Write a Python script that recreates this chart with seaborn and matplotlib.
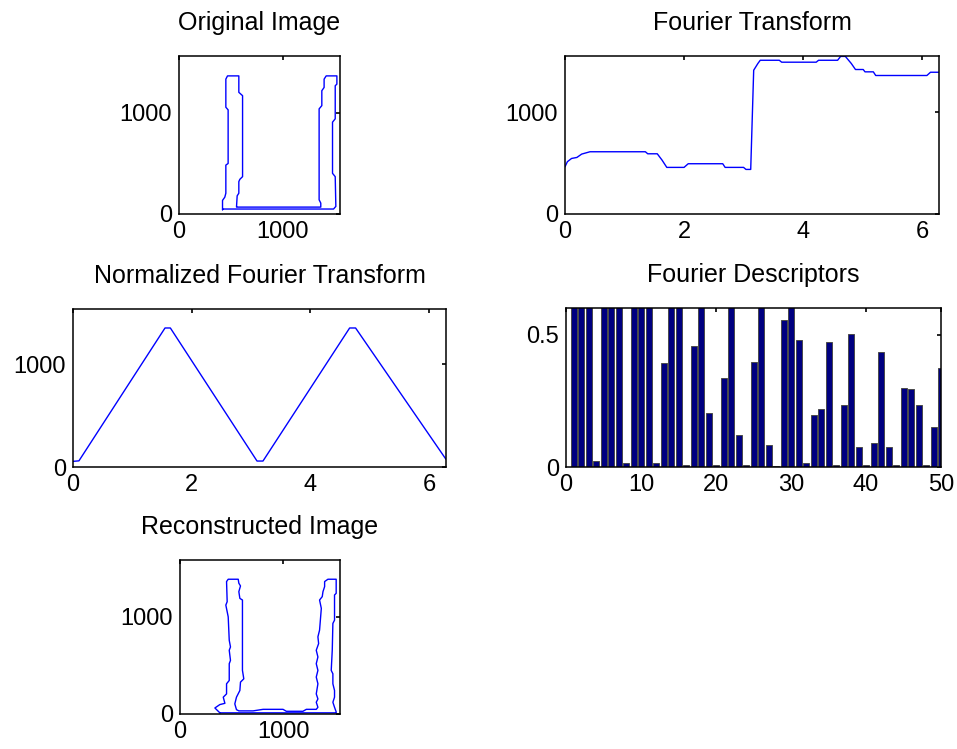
import numpy as np
import pandas as pd
import matplotlib
matplotlib.use("Agg")
import matplotlib.pyplot as plt
import seaborn as sns

# ---------------- data ----------------
# Original contour (x, y) in image pixel units
orig_x = [419, 419, 441, 451, 451, 473, 473, 451, 451, 467, 576, 576, 612, 612, 586, 576,
          576, 560, 554, 554, 1365, 1365, 1349, 1349, 1375, 1375, 1397, 1397, 1417, 1520,
          1520, 1504, 1504, 1478, 1478, 1504, 1510, 1488, 425, 419]
orig_y = [42, 134, 166, 205, 482, 498, 1026, 1052, 1329, 1361, 1361, 1199, 1166, 368, 342, 319,
          205, 179, 75, 68, 68, 107, 140, 1036, 1068, 1215, 1247, 1329, 1361, 1361,
          1280, 1264, 938, 905, 401, 368, 75, 49, 49, 42]

# Fourier transform magnitude vs angle
ft_theta = [0.0, 0.04, 0.11, 0.2, 0.28, 0.42, 1.35, 1.39, 1.55, 1.63, 1.71, 2.0, 2.07, 2.65,
            2.69, 3.0, 3.04, 3.12, 3.17, 3.24, 3.28, 3.6, 3.64, 4.22, 4.26, 4.58, 4.63, 4.71,
            4.81, 4.88, 5.01, 5.04, 5.18, 5.22, 6.08, 6.14, 6.283]
ft_mag = [465, 515, 547, 557, 590, 613, 613, 593, 593, 531, 459, 459, 495, 495,
          459, 459, 439, 439, 1416, 1482, 1514, 1514, 1495, 1495, 1514, 1514, 1552, 1552,
          1482, 1423, 1423, 1400, 1400, 1364, 1364, 1396, 1396]

# Normalized Fourier transform
norm_theta = [0.0, 0.1, 1.55, 1.64, 3.1, 3.2, 4.66, 4.76, 6.283]
norm_mag = [55, 60, 1355, 1355, 58, 58, 1355, 1355, 75]

# Fourier descriptors (bars 1..50); values above 0.6 are clipped in the view
desc_index = list(range(1, 51))
desc_value = [0.95, 0.9, 0.85, 0.0225, 0.8, 0.9, 0.75, 0.014, 0.85, 0.8,
              0.7, 0.014, 0.391, 0.75, 0.7, 0.006, 0.4575, 0.65, 0.204, 0.006,
              0.3375, 0.7, 0.12, 0.006, 0.3975, 0.68, 0.0825, 0.005, 0.556, 0.65,
              0.481, 0.014, 0.195, 0.2175, 0.4725, 0.006, 0.2325, 0.5025, 0.075, 0.006,
              0.09, 0.435, 0.075, 0.006, 0.30, 0.2925, 0.2325, 0.006, 0.15, 0.375]

# Reconstructed contour
rec_x = [386, 338, 386, 435, 419, 451, 451, 477, 477, 489, 477, 489, 477, 467, 444, 457, 451,
         467, 564, 570, 586, 570, 580, 605, 605, 618, 586, 580, 547, 531, 547, 570,
         708, 805, 998, 1030, 1191, 1224, 1320, 1336, 1320, 1336, 1320, 1336, 1320, 1336,
         1320, 1336, 1320, 1343, 1336, 1352, 1369, 1352, 1378, 1385, 1401, 1401, 1433,
         1513, 1513, 1497, 1497, 1481, 1475, 1465, 1481, 1481, 1497, 1497, 1481, 1497,
         1513, 1513, 386]
rec_y = [12, 62, 97, 110, 173, 207, 311, 345, 518, 552, 656, 690, 759, 1000, 1121, 1156, 1363,
         1387, 1387, 1346, 1318, 1259, 1190, 1173, 449, 362, 328, 242, 173, 104, 45, 32,
         32, 48, 48, 28, 28, 48, 48, 69, 121, 155, 207, 311, 380, 449,
         518, 587, 656, 725, 794, 863, 1087, 1173, 1208, 1259, 1311, 1363, 1387,
         1387, 1242, 1225, 966, 932, 656, 449, 414, 311, 242, 173, 121, 69,
         22, 12, 12]

titles = ["Original Image", "Fourier Transform", "Normalized Fourier Transform",
          "Fourier Descriptors", "Reconstructed Image"]

# ---------------- style ----------------
sns.set_theme(style="white")
plt.rcParams["font.family"] = ["Liberation Sans", "DejaVu Sans"]
plt.rcParams["axes.linewidth"] = 1.1

W, H = 957, 749
fig = plt.figure(figsize=(W / 100, H / 100), dpi=100)


def add_ax(l, r, t, b):
    return fig.add_axes([l / W, 1 - b / H, (r - l) / W, (b - t) / H])


def style(ax, title):
    for s in ax.spines.values():
        s.set_visible(True)
        s.set_color("black")
        s.set_linewidth(1.1)
    ax.tick_params(direction="in", length=3, width=1.2, top=True, right=True,
                   labelsize=17, colors="black", pad=5)
    ax.set_title(title, fontsize=18, pad=19, color="black")
    ax.set_xlabel("")
    ax.set_ylabel("")
    ax.grid(False)
    ax.set_facecolor("white")


LINE = "#0000ff"

# Original image
ax1 = add_ax(179, 340, 56, 214)
sns.lineplot(x=orig_x, y=orig_y, sort=False, estimator=None, color=LINE, lw=1, ax=ax1)
ax1.set_xlim(0, 1550)
ax1.set_ylim(0, 1557)
ax1.set_xticks([0, 1000])
ax1.set_yticks([0, 1000])
style(ax1, titles[0])

# Fourier transform
ax2 = add_ax(565, 939, 56, 214)
sns.lineplot(x=ft_theta, y=ft_mag, sort=False, estimator=None, color=LINE, lw=1, ax=ax2)
ax2.set_xlim(0, 2 * np.pi)
ax2.set_ylim(0, 1556)
ax2.set_xticks([0, 2, 4, 6])
ax2.set_yticks([0, 1000])
style(ax2, titles[1])

# Normalized Fourier transform
ax3 = add_ax(73, 446, 309, 467)
sns.lineplot(x=norm_theta, y=norm_mag, sort=False, estimator=None, color=LINE, lw=1, ax=ax3)
ax3.set_xlim(0, 2 * np.pi)
ax3.set_ylim(0, 1540)
ax3.set_xticks([0, 2, 4, 6])
ax3.set_yticks([0, 1000])
style(ax3, titles[2])

# Fourier descriptors
ax4 = add_ax(566, 941, 308, 467)
df = pd.DataFrame({"k": desc_index, "v": desc_value})
sns.barplot(data=df, x="k", y="v", native_scale=True, width=0.8, color="#000080",
            saturation=1, edgecolor="#4a4a4a", linewidth=0.7, ax=ax4, errorbar=None)
ax4.set_xlim(0, 50)
ax4.set_ylim(0, 0.6)
ax4.set_xticks([0, 10, 20, 30, 40, 50])
ax4.set_xticklabels(["0", "10", "20", "30", "40", "50"])
ax4.set_yticks([0, 0.5])
ax4.set_yticklabels(["0", "0.5"])
style(ax4, titles[3])

# Reconstructed image
ax5 = add_ax(180, 340, 560, 714)
sns.lineplot(x=rec_x, y=rec_y, sort=False, estimator=None, color=LINE, lw=1, ax=ax5)
ax5.set_xlim(0, 1550)
ax5.set_ylim(0, 1585)
ax5.set_xticks([0, 1000])
ax5.set_yticks([0, 1000])
style(ax5, titles[4])

fig.savefig("out.png", dpi=100, facecolor="white")
